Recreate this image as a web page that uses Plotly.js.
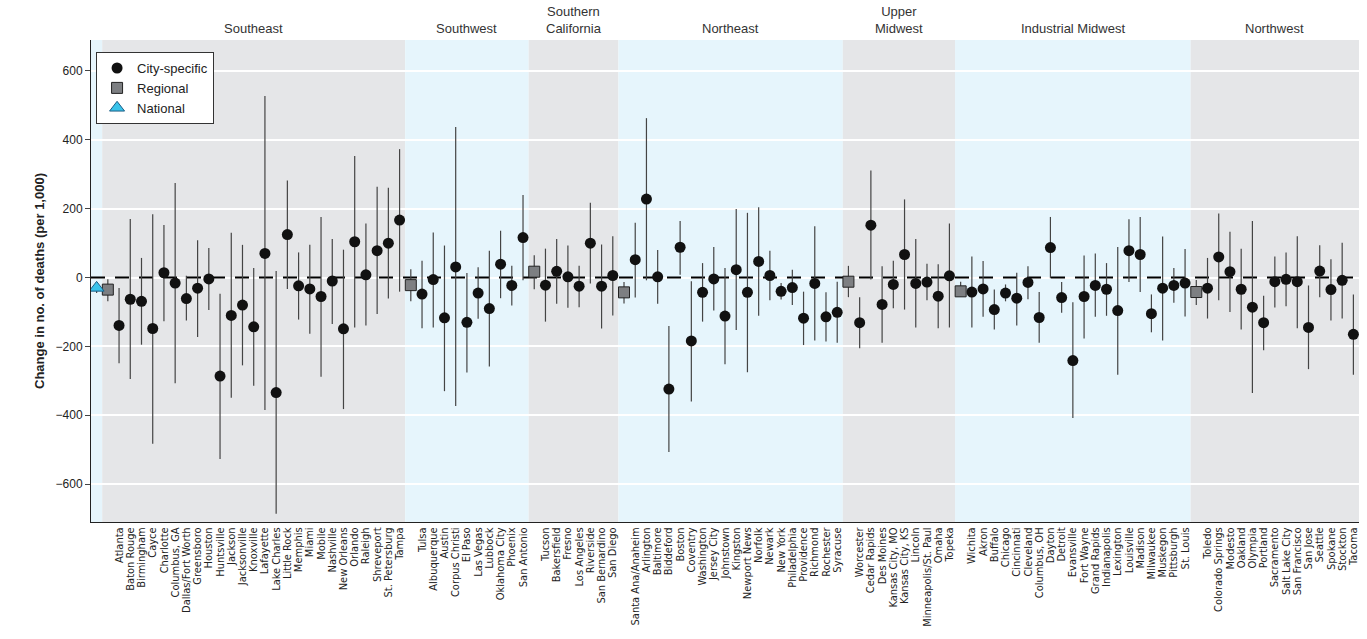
<!DOCTYPE html>
<html>
<head>
<meta charset="utf-8">
<script src="https://cdn.plot.ly/plotly-3.0.1.min.js"></script>
<style>body{margin:0;background:#fff}#chart{width:1367px;height:639px}</style>
</head>
<body>
<div id="chart"></div>
<script>
// region names (shown above the bands)
const regions = ["Southeast", "Southwest", "Southern<br>California", "Northeast", "Upper<br>Midwest", "Industrial Midwest", "Northwest"];

// national estimate [est, upper, lower]
const national = [-30, -15, -45];

// regional estimates [est, upper, lower]
const regional = [
  [-35, -5, -69], [-22, 24, -69], [17, 65, -34], [-43, -13, -75],
  [-12, 34, -57], [-40, -12, -54], [-42, -7, -80]
];

// city-specific estimates per region
const cities = [
  ["Atlanta","Baton Rouge","Birmingham","Cayce","Charlotte","Columbus, GA","Dallas/Fort Worth","Greensboro","Houston","Huntsville","Jackson","Jacksonville","Knoxville","Lafayette","Lake Charles","Little Rock","Memphis","Miami","Mobile","Nashville","New Orleans","Orlando","Raleigh","Shreveport","St. Petersburg","Tampa"],
  ["Tulsa","Albuquerque","Austin","Corpus Christi","El Paso","Las Vegas","Lubbock","Oklahoma City","Phoenix","San Antonio"],
  ["Tucson","Bakersfield","Fresno","Los Angeles","Riverside","San Bernardino","San Diego"],
  ["Santa Ana/Anaheim","Arlington","Baltimore","Biddeford","Boston","Coventry","Washington","Jersey City","Johnstown","Kingston","Newport News","Norfolk","Newark","New York","Philadelphia","Providence","Richmond","Rochester","Syracuse"],
  ["Worcester","Cedar Rapids","Des Moines","Kansas City, MO","Kansas City, KS","Lincoln","Minneapolis/St. Paul","Omaha","Topeka"],
  ["Wichita","Akron","Buffalo","Chicago","Cincinnati","Cleveland","Columbus, OH","Dayton","Detroit","Evansville","Fort Wayne","Grand Rapids","Indianapolis","Lexington","Louisville","Madison","Milwaukee","Muskegon","Pittsburgh","St. Louis"],
  ["Toledo","Colorado Springs","Modesto","Oakland","Olympia","Portland","Sacramento","Salt Lake City","San Francisco","San Jose","Seattle","Spokane","Stockton","Tacoma"]
];
const cityEst = [
  [-139,-63,-69,-148,14,-16,-61,-31,-4,-286,-110,-80,-143,70,-334,125,-24,-33,-55,-10,-149,104,8,78,100,167],
  [-48,-6,-117,31,-130,-45,-90,39,-23,116],
  [-22,18,2,-25,100,-25,6],
  [52,228,2,-324,88,-184,-43,-4,-112,23,-43,47,6,-40,-29,-118,-17,-114,-101],
  [-131,152,-78,-20,67,-17,-13,-54,5],
  [-42,-33,-93,-45,-60,-14,-116,87,-58,-241,-55,-23,-34,-96,78,67,-105,-31,-23,-16],
  [-31,60,17,-34,-86,-131,-12,-5,-12,-145,19,-35,-8,-165]
];
const cityHi = [
  [-30,170,57,184,153,275,5,108,86,-47,130,95,28,527,19,282,73,95,176,112,81,353,157,264,261,373],
  [49,131,93,437,13,30,78,136,34,240],
  [84,112,93,34,217,96,120],
  [159,463,80,-141,164,-11,42,89,28,199,188,204,78,-16,23,-41,149,-43,-12],
  [-57,311,33,49,227,112,40,39,157],
  [61,48,-35,-20,14,33,-42,176,-13,-72,64,70,42,89,169,176,-49,119,28,83],
  [57,186,133,84,164,-53,61,73,120,-23,94,53,101,-49]
];
const cityLo = [
  [-249,-295,-195,-483,-127,-307,-125,-173,-94,-527,-349,-255,-314,-385,-686,-33,-122,-163,-288,-135,-382,-145,-139,-106,-61,-41],
  [-147,-145,-330,-373,-276,-120,-258,-60,-81,-8],
  [-128,-76,-88,-86,-17,-148,-110],
  [-58,-8,-76,-507,8,-360,-128,-96,-252,-152,-275,-111,-66,-64,-80,-196,-183,-186,-189],
  [-205,-6,-189,-89,-93,-145,-66,-147,-145],
  [-145,-114,-151,-69,-139,-63,-189,-2,-102,-408,-177,-114,-111,-282,-13,-42,-159,-183,-73,-113],
  [-119,-66,-100,-151,-335,-211,-87,-83,-147,-266,-57,-125,-119,-282]
];

const bandFill = ["#e5e6e8", "#e6f5fc"];

// assign x positions
let x = 1;
const cx = [], cy = [], cup = [], cdn = [], tickv = [], tickt = [];
const rx = [], ry = [], rup = [], rdn = [];
const shapes = [{type:"rect", xref:"x", yref:"paper", x0:-0.5, x1:0.5, y0:0, y1:1, fillcolor:bandFill[1], line:{width:0}, layer:"below"}];
const annotations = [];
regions.forEach((name, r) => {
  const start = x;
  rx.push(x); ry.push(regional[r][0]);
  rup.push(regional[r][1] - regional[r][0]); rdn.push(regional[r][0] - regional[r][2]);
  x++;
  cities[r].forEach((c, i) => {
    cx.push(x); cy.push(cityEst[r][i]);
    cup.push(cityHi[r][i] - cityEst[r][i]); cdn.push(cityEst[r][i] - cityLo[r][i]);
    tickv.push(x); tickt.push(c);
    x++;
  });
  shapes.push({type:"rect", xref:"x", yref:"paper", x0:start - 0.5, x1:x - 0.5, y0:0, y1:1,
    fillcolor:bandFill[r % 2], line:{width:0}, layer:"below"});
  annotations.push({xref:"x", yref:"paper", x:(start + x - 1) / 2, y:1.005, yanchor:"bottom",
    text:name, showarrow:false, font:{size:13, color:"#333"}});
});

const errStyle = {type:"data", symmetric:false, color:"#444", thickness:1.2, width:0};

const traces = [
  {x:[-0.5, x - 0.5], y:[0, 0], type:"scatter", mode:"lines", showlegend:false, hoverinfo:"skip",
   line:{color:"#000", width:2, dash:"14px,10px"}},
  {x:cx, y:cy, type:"scatter", mode:"markers", name:"City-specific",
   marker:{color:"#111", size:11, symbol:"circle"},
   error_y:Object.assign({array:cup, arrayminus:cdn}, errStyle)},
  {x:rx, y:ry, type:"scatter", mode:"markers", name:"Regional",
   marker:{color:"#7d7f82", size:11, symbol:"square", line:{color:"#222", width:1}},
   error_y:Object.assign({array:rup, arrayminus:rdn}, errStyle)},
  {x:[0], y:[national[0]], type:"scatter", mode:"markers", name:"National",
   marker:{color:"#39c3ea", size:13, symbol:"triangle-up", line:{color:"#1b5d86", width:1}},
   error_y:Object.assign({array:[national[1]-national[0]], arrayminus:[national[0]-national[2]]}, errStyle)}
];

const layout = {
  width:1367, height:639,
  margin:{l:91, r:8, t:40, b:117},
  paper_bgcolor:"#fff", plot_bgcolor:"rgba(0,0,0,0)",
  font:{family:"Arial, Liberation Sans, sans-serif", color:"#222"},
  showlegend:true,
  legend:{x:0.004, y:0.975, xanchor:"left", yanchor:"top", bgcolor:"#fff",
    bordercolor:"#333", borderwidth:1, font:{size:13}, tracegroupgap:0, itemwidth:20},
  xaxis:{range:[-0.5, x - 0.5], tickmode:"array", tickvals:tickv, ticktext:tickt,
    tickangle:-90, tickfont:{size:11, family:"Liberation Sans Narrow, DejaVu Sans Condensed, sans-serif"},
    showgrid:false, zeroline:false, showline:true, linecolor:"#222", ticks:""},
  yaxis:{range:[-710, 690], tickvals:[-600,-400,-200,0,200,400,600],
    gridcolor:"#fff", gridwidth:1.5, zeroline:false, ticks:"outside", ticklen:5,
    showline:true, linecolor:"#222", tickfont:{size:12},
    title:{text:"<b>Change in no. of deaths (per 1,000)</b>", font:{size:13}, standoff:8}},
  shapes:shapes,
  annotations:annotations
};

Plotly.newPlot("chart", traces, layout, {displayModeBar:false});
</script>
</body>
</html>
